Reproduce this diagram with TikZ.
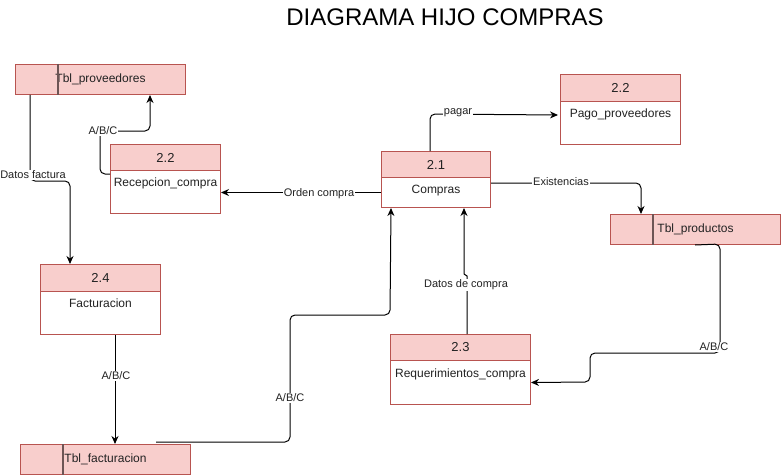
\documentclass[tikz,border=0pt]{standalone}
\usepackage{fontspec}
\setmainfont{Liberation Sans}
\usetikzlibrary{arrows.meta}
\definecolor{boxfill}{HTML}{F8CECC}
\definecolor{boxline}{HTML}{B85450}
\definecolor{sepline}{HTML}{6D5555}
\definecolor{txtcol}{HTML}{222222}
\begin{document}
\begin{tikzpicture}[x=1pt,y=-1pt,
  hdr/.style={draw=boxline,fill=boxfill,line width=1pt,anchor=north west,inner sep=0pt,
    text=txtcol,font=\fontsize{13}{15}\selectfont},
  bod/.style={draw=boxline,fill=white,line width=1pt,anchor=north west,inner sep=0pt},
  btxt/.style={anchor=north,yshift=-8pt,inner sep=0pt,text=txtcol,font=\fontsize{12}{14}\selectfont},
  tbl/.style={draw=boxline,fill=boxfill,line width=1pt,anchor=north west,inner sep=0pt,
    minimum width=170,minimum height=30,text=txtcol,font=\fontsize{12}{14}\selectfont},
  sep/.style={draw=sepline,line width=1.5pt},
  flow/.style={draw=black,line width=1pt,rounded corners=5pt,-{Stealth[length=8pt,width=7pt]}},
  lbl/.style={fill=white,inner sep=1pt,text=txtcol,font=\fontsize{11}{13}\selectfont}
]
\useasboundingbox (0,0) rectangle (781,476);

% title
\node[font=\fontsize{24}{28}\selectfont,text=black] (title) at (445,17) {DIAGRAMA HIJO COMPRAS};

% tables
\node[tbl] (tprov) at (15,64) {Tbl\_proveedores};
\draw[sep] ([xshift=43]tprov.north west) -- ([xshift=43]tprov.south west);
\node[tbl] (tprod) at (610,214) {Tbl\_productos};
\draw[sep] ([xshift=43]tprod.north west) -- ([xshift=43]tprod.south west);
\node[tbl] (tfac) at (20,444) {Tbl\_facturacion};
\draw[sep] ([xshift=43]tfac.north west) -- ([xshift=43]tfac.south west);

% process 2.2 Recepcion_compra
\node[hdr,minimum width=110,minimum height=26] (p22h) at (110,144) {2.2};
\node[bod,minimum width=110,minimum height=43,label={[btxt]north:Recepcion\_compra}] (p22) at (110,170) {};

% process 2.1 Compras
\node[hdr,minimum width=109,minimum height=26] (c21h) at (381,151) {2.1};
\node[bod,minimum width=109,minimum height=30,label={[btxt]north:Compras}] (c21) at (381,177) {};

% process 2.2 Pago_proveedores
\node[hdr,minimum width=120,minimum height=27] (pagoh) at (560,74) {2.2};
\node[bod,minimum width=120,minimum height=43,label={[btxt]north:Pago\_proveedores}] (pago) at (560,101) {};

% process 2.4 Facturacion
\node[hdr,minimum width=120,minimum height=27] (p24h) at (40,264) {2.4};
\node[bod,minimum width=120,minimum height=43,label={[btxt]north:Facturacion}] (p24) at (40,291) {};

% process 2.3 Requerimientos_compra
\node[hdr,minimum width=140,minimum height=26] (reqh) at (390,334) {2.3};
\node[bod,minimum width=140,minimum height=44,label={[btxt,yshift=-1pt]north:Requerimientos\_compra}] (req) at (390,360) {};

% connectors
\draw[flow] ([xshift=15]tprov.south west) -- (30,181) -- (70,181) -- ([xshift=30]p24h.north west);
\node[lbl] (l1) at (33,175) {Datos factura};

\draw[flow] ([yshift=-4]p22.north west) -- (100,174) -- (100,131) -- (150,131) -- ([xshift=135]tprov.south west);
\node[lbl] (l2) at (103,131) {A/B/C};

\draw[flow] (c21.west) -- (c21.west -| p22.east);
\node[lbl] (l3) at (319,194) {Orden compra};

\draw[flow] ([xshift=49]c21h.north west) -- (430,114) -- ([xshift=-2,yshift=-13]pagoh.south west);
\node[lbl] (l4) at (458,113) {pagar};

\draw[flow] ([yshift=-6]c21.north east) -- (641,183) -- ([xshift=31]tprod.north west);
\node[lbl] (l5) at (561,182) {Existencias};

\draw[flow] ([xshift=85]tprod.south west) -- (720,244) -- (720,353) -- (590,353) -- (590,382) -- (req.east);
\node[lbl] (l6) at (714,347) {A/B/C};

\draw[flow,sharp corners] ([xshift=77]reqh.north west) -- (467,276) -- (464,274) -- ([xshift=83]c21.south west);
\node[lbl] (l7) at (466,285) {Datos de compra};

\draw[flow] ([xshift=136,yshift=2]tfac.north west) -- (290,442) -- (290,315) -- (390,315) -- ([xshift=10]c21.south west);
\node[lbl] (l8) at (290,398) {A/B/C};

\draw[flow] ([xshift=75]p24.south west) -- ([xshift=95]tfac.north west);
\node[lbl] (l9) at (116,376) {A/B/C};
\end{tikzpicture}
\end{document}
